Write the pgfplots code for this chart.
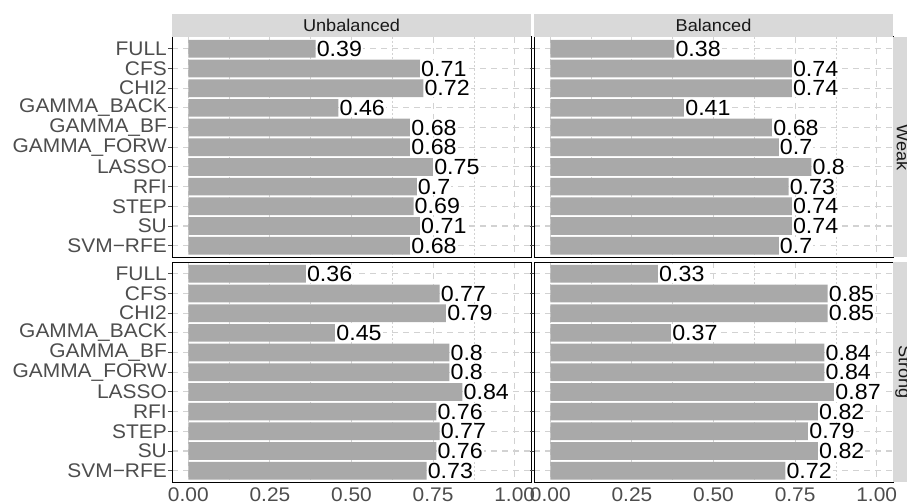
\documentclass[border=0pt]{standalone}
\usepackage{pgfplots}
\pgfplotsset{compat=1.18}
\usepackage{pgfplotstable}
\usepackage{fontspec}
\setmainfont{Liberation Sans}[FakeStretch=1.06]

\definecolor{barcol}{HTML}{A9A9A9}
\definecolor{stripcol}{HTML}{D9D9D9}
\definecolor{tickcol}{HTML}{4D4D4D}
\definecolor{gridcol}{HTML}{D2D2D2}

% y = row (0 = top), uw/bw = Unbalanced/Balanced Weak, us/bs = Strong
\pgfplotstableread{
y  uw   bw   us   bs
0  0.39 0.38 0.36 0.33
1  0.71 0.74 0.77 0.85
2  0.72 0.74 0.79 0.85
3  0.46 0.41 0.45 0.37
4  0.68 0.68 0.80 0.84
5  0.68 0.70 0.80 0.84
6  0.75 0.80 0.84 0.87
7  0.70 0.73 0.76 0.82
8  0.69 0.74 0.77 0.79
9  0.71 0.74 0.76 0.82
10 0.68 0.70 0.73 0.72
}\scores

\pgfplotsset{
  panel/.style={
    anchor=south west, width=359bp, height=220.5bp, scale only axis,
    xmin=-0.05, xmax=1.05, ymin=-0.6, ymax=10.6, y dir=reverse,
    axis line style={black, line width=1bp},
    xtick={0,0.25,0.5,0.75,1},
    xticklabels={0.00,0.25,0.50,0.75,1.00},
    minor xtick={0.125,0.375,0.625,0.875},
    ytick={0,...,10},
    tick align=outside, major tick length=4bp,
    xtick style={draw=none}, minor tick length=0pt,
    ytick style={draw=tickcol, line width=0.9bp},
    xmajorgrids, xminorgrids, ymajorgrids,
    major grid style={draw=gridcol, line width=1.1bp, dash pattern=on 6bp off 5bp},
    minor grid style={draw=gridcol, line width=0.7bp, dash pattern=on 2bp off 2bp},
    ticklabel style={text=tickcol, inner sep=1bp},
    yticklabel style={font=\fontsize{19.8}{21}\selectfont},
    xticklabel style={font=\fontsize{19.8}{21}\selectfont},
    /pgf/number format/assume math mode=true,
  },
  bars/.style={
    xbar, fill=barcol, draw=none, bar width=0.9,
    nodes near coords={\pgfmathprintnumber[fixed,precision=2]{\pgfplotspointmeta}},
    nodes near coords style={anchor=west, fill=white, text=black,
      inner xsep=1bp, inner ysep=1bp, font=\fontsize{22}{23}\selectfont},
  },
}

\begin{document}
\begin{tikzpicture}
% top row: Weak
\begin{axis}[panel, at={(172bp,246.5bp)}, xticklabels={},
  yticklabels={FULL,CFS,CHI2,GAMMA\_BACK,GAMMA\_BF,GAMMA\_FORW,LASSO,RFI,STEP,SU,SVM−RFE}]
  \addplot[bars] table[x=uw, y=y] {\scores};
\end{axis}
\begin{axis}[panel, at={(534bp,246.5bp)}, xticklabels={}, yticklabels={}]
  \addplot[bars] table[x=bw, y=y] {\scores};
\end{axis}
% bottom row: Strong
\begin{axis}[panel, at={(172bp,21.5bp)},
  yticklabels={FULL,CFS,CHI2,GAMMA\_BACK,GAMMA\_BF,GAMMA\_FORW,LASSO,RFI,STEP,SU,SVM−RFE}]
  \addplot[bars] table[x=us, y=y] {\scores};
\end{axis}
\begin{axis}[panel, at={(534bp,21.5bp)}, yticklabels={}]
  \addplot[bars] table[x=bs, y=y] {\scores};
\end{axis}

% facet strips
\fill[stripcol] (172bp,467bp) rectangle (531bp,490bp);
\fill[stripcol] (534bp,467bp) rectangle (893bp,490bp);
\fill[stripcol] (893bp,246.5bp) rectangle (916bp,467bp);
\fill[stripcol] (893bp,21.5bp) rectangle (916bp,242bp);
\node[text=black!90, font=\fontsize{17.2}{18}\selectfont] at (351.5bp,478.5bp) {Unbalanced};
\node[text=black!90, font=\fontsize{17.2}{18}\selectfont] at (713.5bp,478.5bp) {Balanced};
\node[text=black!90, font=\fontsize{17.2}{18}\selectfont, rotate=-90] at (903bp,356.75bp) {Weak};
\node[text=black!90, font=\fontsize{17.2}{18}\selectfont, rotate=-90] at (903bp,131.75bp) {Strong};

\pgfresetboundingbox
\path[use as bounding box] (0,0) rectangle (907bp,504bp);
\end{tikzpicture}
\end{document}
